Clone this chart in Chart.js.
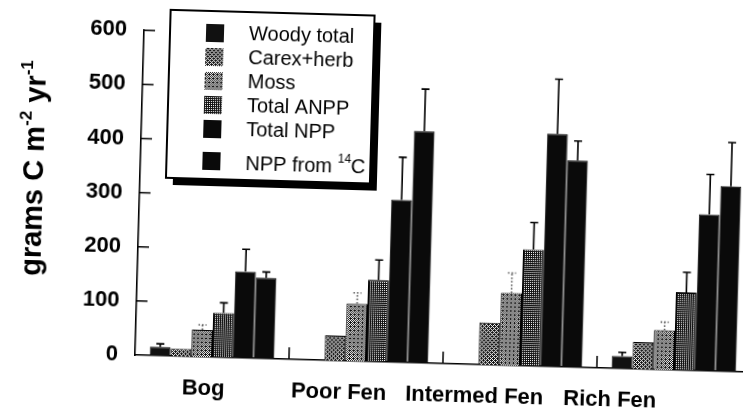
<!DOCTYPE html>
<html>
<head>
<meta charset="utf-8">
<script src="https://cdn.jsdelivr.net/npm/chart.js@4.4.0/dist/chart.umd.min.js"></script>
<style>
  html, body { margin: 0; padding: 0; background: #fff; overflow: hidden; width: 743px; height: 414px; }
  /* the scanned figure is tilted a little, so the whole plot is turned about the axis origin */
  #wrap { position: absolute; left: 0; top: 0; width: 760px; height: 414px; transform: rotate(1.6deg); transform-origin: 135px 355px; }
</style>
</head>
<body>
<div id="wrap"><canvas id="chart" width="760" height="414"></canvas></div>
<script>
// values, grams C m-2 yr-1
const categories = ['Bog', 'Poor Fen', 'Intermed Fen', 'Rich Fen'];
const woody    = [16, 0, 0, 23];
const woodyErr = [22, null, null, 30];
const carex    = [14, 46, 78, 50];
const carexErr = [null, null, null, null];
const moss     = [50, 106, 134, 73];
const mossErr  = [59, 126, 171, 88];
const anpp     = [82, 151, 215, 144];
const anppErr  = [101, 188, 265, 181];
const npp      = [160, 300, 430, 289];
const nppErr   = [201, 379, 531, 363];
const c14      = [149, 428, 382, 342];
const c14Err   = [160, 506, 418, 423];
const yTicks   = [0, 100, 200, 300, 400, 500, 600];
const labelSlots = [0, 1, 2, 3];

const canvas = document.getElementById('chart');
const ctx = canvas.getContext('2d');

// stippled grey like the scan, 4x4 ordered dither
const bayer = [[0, 8, 2, 10], [12, 4, 14, 6], [3, 11, 1, 9], [15, 7, 13, 5]];
const stipple = (darkness) => {
    const c = document.createElement('canvas');
    c.width = 4; c.height = 4;
    const g = c.getContext('2d');
    g.fillStyle = '#fff';
    g.fillRect(0, 0, 4, 4);
    g.fillStyle = '#111';
    for (let yy = 0; yy < 4; yy++) {
        for (let xx = 0; xx < 4; xx++) {
            if (bayer[yy][xx] < darkness * 16) g.fillRect(xx, yy, 1, 1);
        }
    }
    return ctx.createPattern(c, 'repeat');
};

const solidErr = { errorColor: '#000', errorDash: [] };
const dotErr = { errorColor: '#555', errorDash: [1.5, 2] };

const datasets = [
    { label: 'Woody total', data: woody, errors: woodyErr, backgroundColor: '#111', ...solidErr },
    { label: 'Carex+herb', data: carex, errors: carexErr, backgroundColor: stipple(0.6), ...dotErr },
    { label: 'Moss', data: moss, errors: mossErr, backgroundColor: stipple(0.56), ...dotErr },
    { label: 'Total ANPP', data: anpp, errors: anppErr, backgroundColor: stipple(0.7), ...solidErr },
    { label: 'Total NPP', data: npp, errors: nppErr, backgroundColor: '#0a0a0a', ...solidErr },
    { label: 'NPP from 14C', data: c14, errors: c14Err, backgroundColor: '#0a0a0a', ...solidErr }
];
datasets.forEach(ds => { ds.borderColor = '#000'; ds.borderWidth = 1; });

const extras = {
    id: 'extras',
    afterDatasetsDraw(chart) {
        const { ctx, chartArea, scales: { x, y } } = chart;
        ctx.save();
        // error bars, upper half only
        chart.data.datasets.forEach((ds, i) => {
            const meta = chart.getDatasetMeta(i);
            meta.data.forEach((bar, j) => {
                const e = ds.errors[j];
                if (e == null) return;
                const top = y.getPixelForValue(e);
                ctx.strokeStyle = ds.errorColor;
                ctx.lineWidth = 1.6;
                ctx.setLineDash(ds.errorDash);
                ctx.beginPath();
                ctx.moveTo(bar.x, bar.y);
                ctx.lineTo(bar.x, top);
                ctx.moveTo(bar.x - 4, top);
                ctx.lineTo(bar.x + 4, top);
                ctx.stroke();
            });
        });
        ctx.setLineDash([]);
        ctx.strokeStyle = '#000';
        ctx.lineWidth = 1.5;
        // inward tick marks
        y.ticks.forEach(t => {
            if (t.value === 0) return;
            const py = y.getPixelForValue(t.value);
            ctx.beginPath();
            ctx.moveTo(chartArea.left, py);
            ctx.lineTo(chartArea.left + 11, py);
            ctx.stroke();
        });
        for (let j = 1; j <= categories.length; j++) {
            const px = (x.getPixelForValue(j - 1) + x.getPixelForValue(j)) / 2;
            ctx.beginPath();
            ctx.moveTo(px, chartArea.bottom);
            ctx.lineTo(px, chartArea.bottom - 12);
            ctx.stroke();
        }
        ctx.restore();
    },
    afterDraw(chart) {
        const { ctx } = chart;
        ctx.save();
        // legend box with heavy drop shadow
        const bx = 161, by = 9, bw = 204, bh = 168;
        ctx.fillStyle = '#000';
        ctx.fillRect(bx + 7, by + 7, bw, bh);
        ctx.fillStyle = '#fff';
        ctx.fillRect(bx, by, bw, bh);
        ctx.strokeStyle = '#000';
        ctx.lineWidth = 2;
        ctx.strokeRect(bx, by, bw, bh);
        ctx.textBaseline = 'middle';
        ctx.textAlign = 'left';
        const font = '20px "Liberation Sans", Arial, sans-serif';
        chart.data.datasets.forEach((ds, i) => {
            const cy = by + 22 + i * 24 + (i === 5 ? 8 : 0);
            ctx.fillStyle = ds.backgroundColor;
            ctx.fillRect(bx + 36, cy - 9, 18, 18);
            ctx.fillStyle = '#000';
            ctx.font = font;
            const tx = bx + 79;
            if (ds.label.endsWith('14C')) {
                const pre = 'NPP from ';
                ctx.fillText(pre, tx, cy + 2);
                let w = ctx.measureText(pre).width;
                ctx.font = '12px "Liberation Sans", Arial, sans-serif';
                ctx.fillText('14', tx + w, cy - 5);
                w += ctx.measureText('14').width;
                ctx.font = font;
                ctx.fillText('C', tx + w, cy + 2);
            } else {
                ctx.fillText(ds.label, tx, cy);
            }
        });
        // y axis title with superscripts
        const parts = [
            ['grams C m', 29, 0], ['-2', 17, -13], [' yr', 29, 0], ['-1', 17, -13]
        ];
        let total = 0;
        parts.forEach(p => {
            ctx.font = `bold ${p[1]}px "Liberation Sans", Arial, sans-serif`;
            total += ctx.measureText(p[0]).width;
        });
        ctx.translate(38, 171);
        ctx.rotate(-Math.PI / 2);
        ctx.textBaseline = 'alphabetic';
        ctx.fillStyle = '#000';
        let cx = -total / 2;
        parts.forEach(p => {
            ctx.font = `bold ${p[1]}px "Liberation Sans", Arial, sans-serif`;
            ctx.fillText(p[0], cx, p[2]);
            cx += ctx.measureText(p[0]).width;
        });
        ctx.restore();
    }
};

new Chart(canvas, {
    type: 'bar',
    data: { labels: categories, datasets },
    options: {
        responsive: false,
        animation: false,
        events: [],
        layout: { padding: { top: 29, right: 9, left: 0, bottom: 0 } },
        datasets: { bar: { categoryPercentage: 0.81, barPercentage: 1.0 } },
        plugins: { legend: { display: false }, tooltip: { enabled: false } },
        scales: {
            x: {
                grid: { display: false },
                border: { display: true, color: '#000', width: 1.6 },
                ticks: { display: false },
                afterFit: (s) => { s.height = 0; }
            },
            // category names sit on their own, tighter spacing in the original
            x2: {
                type: 'linear',
                position: 'bottom',
                bounds: 'data',
                offset: false,
                min: -0.509,
                max: 4.034,
                grid: { display: false, drawTicks: false, offset: false },
                border: { display: false },
                afterBuildTicks: (s) => { s.ticks = labelSlots.map(v => ({ value: v })); },
                ticks: {
                    autoSkip: false,
                    maxRotation: 0,
                    padding: 19,
                    color: '#000',
                    font: { family: '"Liberation Sans", Arial, sans-serif', size: 22, weight: 'bold' },
                    callback: (v) => categories[v] ?? ''
                },
                afterFit: (s) => { s.height = 59; }
            },
            y: {
                min: 0,
                max: 600,
                grid: { display: false, drawTicks: false },
                border: { display: true, color: '#000', width: 1.6 },
                afterBuildTicks: (s) => { s.ticks = yTicks.map(v => ({ value: v })); },
                ticks: {
                    padding: 17,
                    color: '#000',
                    font: { family: '"Liberation Sans", Arial, sans-serif', size: 22, weight: 'bold' }
                },
                afterFit: (s) => { s.width = 135; }
            }
        }
    },
    plugins: [extras]
});
</script>
</body>
</html>
